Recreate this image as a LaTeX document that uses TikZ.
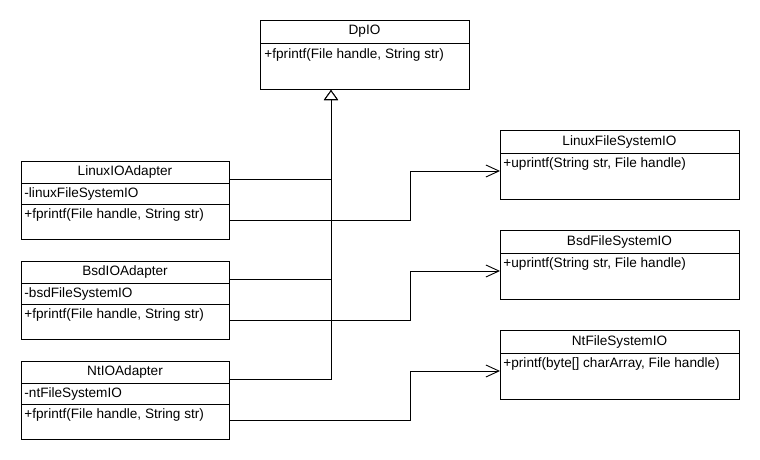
\documentclass[tikz,border=0pt]{standalone}
\usepackage{fontspec}
\setmainfont{Liberation Sans}
\usetikzlibrary{arrows.meta}

\begin{document}
\begin{tikzpicture}[x=1pt, y=-1pt, line width=0.9pt,
  cls/.style={draw=black, anchor=north west, inner sep=0pt, outer sep=0pt},
  iface/.style={cls, minimum width=209pt, minimum height=69pt},
  adapter/.style={cls, minimum width=208pt, minimum height=78pt},
  fsbox/.style={cls, minimum width=239pt, minimum height=69pt},
  title/.style={inner sep=0pt, font=\fontsize{13.6}{16}\selectfont},
  member/.style={anchor=west, inner sep=0pt, font=\fontsize{13.6}{16}\selectfont},
  gen/.style={-{Triangle[open, length=10pt, width=14pt, fill=white]}},
  assoc/.style={-{Straight Barb[length=13pt, width=12pt]}}]
\useasboundingbox (0,0) rectangle (760,460);

% target interface
\node[iface] (dpio) at (260,20) {};
\draw ([yshift=-23pt]dpio.north west) -- ([yshift=-23pt]dpio.north east);
\node[title] (dpioname) at ([yshift=-11.5pt]dpio.north) {DpIO};
\node[member] (dpioop) at ([xshift=4pt,yshift=-35pt]dpio.north west) {+fprintf(File handle, String str)};

% adapters
\node[adapter] (linA) at (21,161) {};
\draw ([yshift=-22pt]linA.north west) -- ([yshift=-22pt]linA.north east);
\draw ([yshift=-43pt]linA.north west) -- ([yshift=-43pt]linA.north east);
\node[title] (linAname) at ([yshift=-11pt]linA.north) {LinuxIOAdapter};
\node[member] (linAatt) at ([xshift=3pt,yshift=-32.5pt]linA.north west) {-linuxFileSystemIO};
\node[member] (linAop) at ([xshift=3pt,yshift=-54pt]linA.north west) {+fprintf(File handle, String str)};

\node[adapter] (bsdA) at (21,261) {};
\draw ([yshift=-22pt]bsdA.north west) -- ([yshift=-22pt]bsdA.north east);
\draw ([yshift=-43pt]bsdA.north west) -- ([yshift=-43pt]bsdA.north east);
\node[title] (bsdAname) at ([yshift=-11pt]bsdA.north) {BsdIOAdapter};
\node[member] (bsdAatt) at ([xshift=3pt,yshift=-32.5pt]bsdA.north west) {-bsdFileSystemIO};
\node[member] (bsdAop) at ([xshift=3pt,yshift=-54pt]bsdA.north west) {+fprintf(File handle, String str)};

\node[adapter] (ntA) at (21,361) {};
\draw ([yshift=-22pt]ntA.north west) -- ([yshift=-22pt]ntA.north east);
\draw ([yshift=-43pt]ntA.north west) -- ([yshift=-43pt]ntA.north east);
\node[title] (ntAname) at ([yshift=-11pt]ntA.north) {NtIOAdapter};
\node[member] (ntAatt) at ([xshift=3pt,yshift=-32.5pt]ntA.north west) {-ntFileSystemIO};
\node[member] (ntAop) at ([xshift=3pt,yshift=-54pt]ntA.north west) {+fprintf(File handle, String str)};

% adaptees
\node[fsbox] (linFS) at (500,130) {};
\draw ([yshift=-23pt]linFS.north west) -- ([yshift=-23pt]linFS.north east);
\node[title] (linFSname) at ([yshift=-11.5pt]linFS.north) {LinuxFileSystemIO};
\node[member] (linFSop) at ([xshift=3pt,yshift=-34pt]linFS.north west) {+uprintf(String str, File handle)};

\node[fsbox] (bsdFS) at (500,230) {};
\draw ([yshift=-23pt]bsdFS.north west) -- ([yshift=-23pt]bsdFS.north east);
\node[title] (bsdFSname) at ([yshift=-11.5pt]bsdFS.north) {BsdFileSystemIO};
\node[member] (bsdFSop) at ([xshift=3pt,yshift=-34pt]bsdFS.north west) {+uprintf(String str, File handle)};

\node[fsbox] (ntFS) at (500,330) {};
\draw ([yshift=-23pt]ntFS.north west) -- ([yshift=-23pt]ntFS.north east);
\node[title] (ntFSname) at ([yshift=-11.5pt]ntFS.north) {NtFileSystemIO};
\node[member] (ntFSop) at ([xshift=3pt,yshift=-34pt]ntFS.north west) {+printf(byte[] charArray, File handle)};

% connectors
\coordinate (gentrunk) at (331,90);
\coordinate (assoctrunk) at (410,0);
\draw[gen] ([yshift=-18pt]linA.north east) -| (gentrunk);
\draw[gen] ([yshift=-18pt]bsdA.north east) -| (gentrunk);
\draw[gen] ([yshift=-18pt]ntA.north east) -| (gentrunk);
\draw[assoc] ([yshift=-59pt]linA.north east) coordinate (linsrc) -- (linsrc -| assoctrunk) |- ([yshift=-41pt]linFS.north west);
\draw[assoc] ([yshift=-59pt]bsdA.north east) coordinate (bsdsrc) -- (bsdsrc -| assoctrunk) |- ([yshift=-41pt]bsdFS.north west);
\draw[assoc] ([yshift=-59pt]ntA.north east) coordinate (ntsrc) -- (ntsrc -| assoctrunk) |- ([yshift=-41pt]ntFS.north west);
\end{tikzpicture}
\end{document}
